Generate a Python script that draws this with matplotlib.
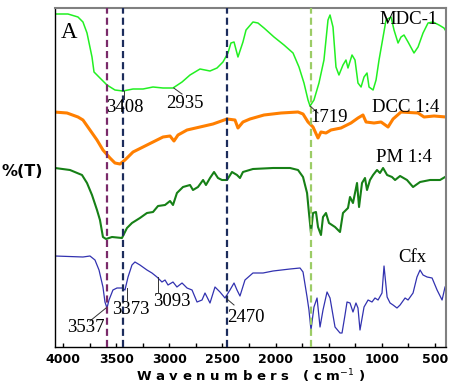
import matplotlib
matplotlib.use("Agg")
import matplotlib.pyplot as plt
from matplotlib.ticker import MultipleLocator

# ---------------- data (wavenumber cm-1, offset %T arbitrary units) ----------------
mdc_x = [4085, 3953, 3859, 3812, 3774, 3727, 3708, 3680, 3652, 3586, 3511, 3436, 3341, 3247,
         3153, 3059, 2965, 2880, 2805, 2711, 2617, 2551, 2495, 2448, 2420, 2391, 2354, 2307,
         2278, 2213, 2166, 2109, 2015, 1921, 1836, 1780, 1733, 1695, 1676, 1639, 1592, 1545,
         1507, 1488, 1460, 1432, 1404, 1366, 1338, 1319, 1281, 1253, 1225, 1196, 1168, 1140,
         1121, 1083, 1055, 1027, 989, 961, 914, 886, 848, 820, 792, 754, 698, 660, 613, 566,
         519, 463, 416, 387]
mdc_y = [333, 333, 330, 325, 314, 290, 275, 272, 269, 262, 257, 256, 258, 258,
         260, 259, 259, 265, 272, 278, 276, 279, 285, 294, 304, 305, 290, 305,
         317, 325, 324, 319, 310, 302, 294, 280, 264, 247, 241, 247, 264, 287,
         327, 332, 320, 280, 272, 282, 287, 279, 292, 287, 264, 260, 270, 274,
         260, 257, 267, 287, 310, 327, 330, 317, 304, 310, 312, 305, 294, 300, 314, 324,
         325, 322, 319, 314]

dcc_x = [4085, 3962, 3859, 3812, 3746, 3680, 3624, 3558, 3511, 3464, 3417, 3341, 3247, 3153,
         3059, 2993, 2956, 2918, 2833, 2711, 2589, 2457, 2382, 2354, 2307, 2241, 2109, 1949,
         1789, 1742, 1695, 1648, 1601, 1573, 1526, 1479, 1385, 1291, 1225, 1178, 1149, 1074,
         1008, 942, 895, 820, 660, 604, 510, 397]
dcc_y = [235, 234, 230, 227, 217, 207, 197, 189, 184, 183, 187, 195, 200, 205,
         210, 211, 206, 212, 217, 220, 223, 228, 227, 219, 225, 228, 232, 234,
         235, 233, 225, 220, 209, 215, 214, 217, 219, 224, 229, 232, 225, 224,
         225, 220, 228, 235, 234, 230, 231, 230]

pm_x = [4075, 3934, 3821, 3774, 3727, 3680, 3652, 3624, 3595, 3539, 3445, 3398, 3351, 3276,
        3210, 3153, 3106, 3040, 2993, 2965, 2928, 2871, 2805, 2777, 2730, 2682, 2655, 2617,
        2579, 2542, 2504, 2457, 2410, 2363, 2335, 2307, 2213, 2024, 1864, 1789, 1742, 1704,
        1686, 1667, 1648, 1620, 1601, 1573, 1554, 1526, 1498, 1441, 1394, 1366, 1319, 1300,
        1272, 1234, 1215, 1187, 1159, 1140, 1112, 1083, 1046, 1018, 989, 951, 905, 876, 829,
        764, 707, 641, 547, 453, 406]
pm_y = [179, 177, 172, 164, 152, 137, 127, 110, 108, 110, 109, 119, 124, 129,
        134, 135, 141, 142, 146, 142, 154, 160, 162, 157, 160, 167, 162, 169,
        175, 169, 167, 167, 175, 172, 169, 175, 178, 179, 179, 177, 170, 154,
        134, 114, 134, 135, 120, 112, 130, 134, 124, 120, 115, 134, 139, 150,
        144, 164, 140, 164, 169, 157, 167, 172, 177, 174, 179, 172, 170, 167, 171,
        167, 160, 165, 167, 167, 170]

cfx_x = [4075, 3812, 3746, 3699, 3661, 3624, 3605, 3586, 3567, 3530, 3492, 3445, 3417, 3388,
         3351, 3323, 3276, 3210, 3163, 3116, 3069, 3040, 3012, 2965, 2928, 2880, 2833, 2786,
         2739, 2692, 2664, 2617, 2570, 2523, 2476, 2429, 2391, 2363, 2335, 2288, 2213, 2118,
         2024, 1864, 1770, 1742, 1704, 1686, 1667, 1639, 1610, 1582, 1554, 1516, 1488, 1441,
         1394, 1375, 1347, 1328, 1300, 1272, 1244, 1225, 1206, 1168, 1130, 1093, 1065, 1036,
         999, 980, 951, 923, 895, 858, 829, 782, 754, 707, 670, 641, 613, 575, 528, 481, 434,
         406]
cfx_y = [91, 90, 91, 87, 77, 60, 45, 39, 47, 57, 59, 59, 57, 70,
         82, 85, 82, 77, 74, 70, 65, 67, 62, 65, 60, 64, 59, 57,
         45, 47, 54, 44, 60, 55, 49, 57, 64, 57, 51, 67, 74, 74,
         76, 78, 79, 75, 50, 37, 17, 40, 49, 20, 37, 55, 49, 20,
         14, 14, 32, 45, 44, 35, 44, 39, 17, 40, 47, 45, 49, 47,
         54, 81, 50, 44, 42, 39, 42, 49, 47, 54, 70, 77, 72, 70, 69, 57, 47,
         60]

series_names = ["MDC-1", "DCC 1:4", "PM 1:4", "Cfx"]
series_colors = ["#22f022", "#ff7f00", "#168016", "#3232b0"]

# reference band positions (dashed lines)
band_pos = [3590, 3433, 2460, 1667]
band_colors = ["#7a2a6a", "#1c2c5c", "#1c2c5c", "#9ccc66"]

# peak annotations: label, (text x, text y), (line start), (line end)
peak_labels = ["3408", "2935", "1719", "3537", "3373", "3093", "2470"]
peak_text_x = [3421, 2852, 1497, 3784, 3365, 2979, 2283]
peak_text_y = [239, 244, 230, 19, 38, 45, 30]
peak_line_x0 = [3426, 2958, 1676, 3595, 3398, 3106, 2457]
peak_line_y0 = [256, 259, 241, 39, 59, 70, 48]
peak_line_x1 = [3426, 2880, 1601, 3746, 3398, 3106, 2391]
peak_line_y1 = [248, 253, 234, 26, 47, 55, 42]

name_x = [750, 773, 792, 717]
name_y = [327, 240, 190, 89]

# ---------------- figure ----------------
fig = plt.figure(figsize=(4.62, 3.87), dpi=100)
ax = fig.add_axes([55/462, 1-347/387, (446-55)/462, (347-8)/387])

serif = ["Liberation Serif", "DejaVu Serif"]

xs = [mdc_x, dcc_x, pm_x, cfx_x]
ys = [mdc_y, dcc_y, pm_y, cfx_y]
lws = [1.1, 2.2, 1.5, 0.9]
for x, y, c, lw in zip(xs, ys, series_colors, lws):
    ax.plot(x, y, color=c, lw=lw, zorder=2)

for p, c in zip(band_pos, band_colors):
    ax.axvline(p, color=c, lw=1.6, ls=(0, (3.2, 1.8)), zorder=3)

for lab, tx, ty, x0, y0, x1, y1 in zip(peak_labels, peak_text_x, peak_text_y,
                                        peak_line_x0, peak_line_y0, peak_line_x1, peak_line_y1):
    ax.plot([x0, x1], [y0, y1], color="#333333", lw=0.7, zorder=4)
    ax.text(tx, ty, lab, ha="center", va="center", fontsize=13.5, family=serif, zorder=5)

for n, x, y in zip(series_names, name_x, name_y):
    ax.text(x, y, n, ha="center", va="center", fontsize=13.5, family=serif, zorder=5)

ax.text(3944, 315, "A", ha="center", va="center", fontsize=16.5, family=serif)

ax.set_xlim(4075, 397)
ax.set_ylim(0, 339)
ax.xaxis.set_major_locator(MultipleLocator(500))
ax.xaxis.set_minor_locator(MultipleLocator(250))
ax.tick_params(axis="x", which="both", direction="in", length=3, width=1, pad=4,
               labelsize=9)
for t in ax.get_xticklabels():
    t.set_fontweight("bold")
ax.set_yticks([])

for s in ["top", "right"]:
    ax.spines[s].set_color("#808080")
    ax.spines[s].set_linewidth(1.5)
for s in ["left", "bottom"]:
    ax.spines[s].set_color("black")
    ax.spines[s].set_linewidth(1.0)

ax.set_xlabel("W a v e n u m b e r s   ( c m$^{-1}$ )", fontsize=9.5, fontweight="bold",
              labelpad=1)
fig.text(22/462, 1-172/387, "%(T)", fontsize=11.5, fontweight="bold",
         ha="center", va="center")

fig.savefig("out.png", dpi=100)
